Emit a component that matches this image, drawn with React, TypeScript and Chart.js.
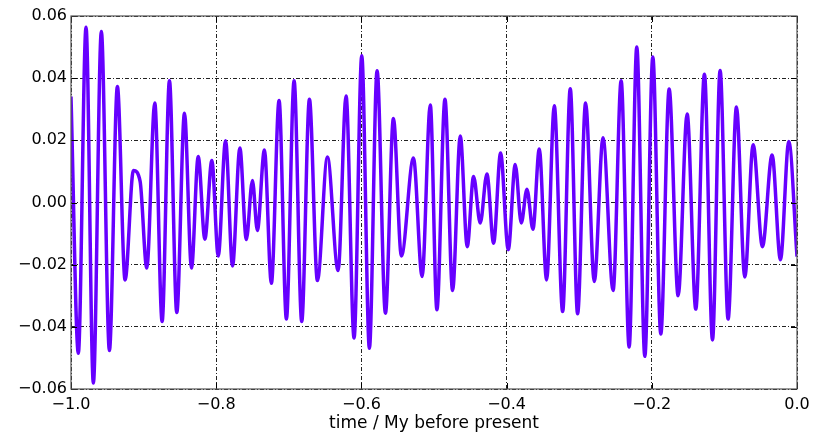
import React, { useEffect, useRef } from "react";
import { Chart, registerables } from "chart.js";

Chart.register(...registerables);

// Extrema (time in My before present, value)
const times: number[] = [
  -1.0, -0.9899, -0.9793, -0.9692, -0.9582, -0.9471, -0.9361, -0.9255, -0.914, -0.9048,
  -0.8956, -0.8846, -0.8745, -0.8644, -0.8543, -0.8437, -0.834, -0.8248, -0.8156, -0.806,
  -0.7972, -0.7871, -0.7775, -0.7674, -0.7585, -0.7501, -0.7433, -0.7336, -0.724, -0.7134,
  -0.7033, -0.6927, -0.6822, -0.6716, -0.6606, -0.6468, -0.6321, -0.6211, -0.6101, -0.5995,
  -0.589, -0.5784, -0.5669, -0.5559, -0.5449, -0.5283, -0.5164, -0.5051, -0.496, -0.4849,
  -0.4744, -0.4638, -0.4542, -0.4455, -0.4363, -0.4271, -0.4179, -0.4083, -0.3977, -0.3881,
  -0.3798, -0.372, -0.3637, -0.355, -0.3449, -0.3343, -0.3228, -0.3123, -0.3022, -0.2912,
  -0.2792, -0.2672, -0.2533, -0.2422, -0.2312, -0.2207, -0.2096, -0.1986, -0.1876, -0.1761,
  -0.1637, -0.1513, -0.1394, -0.1275, -0.1164, -0.1059, -0.0949, -0.0834, -0.0719, -0.0604,
  -0.0476, -0.0343, -0.0228, -0.0113, 0.0,
];

const values: number[] = [
  0.0341, -0.0485, 0.0564, -0.0581, 0.055, -0.0476, 0.0373, -0.0249, 0.0103, 0.0068,
  -0.0211, 0.032, -0.0383, 0.0392, -0.0354, 0.0287, -0.0211, 0.0148, -0.0118, 0.0135,
  -0.0172, 0.0199, -0.0204, 0.0175, -0.0119, 0.0071, -0.009, 0.0169, -0.026, 0.0328,
  -0.0375, 0.0392, -0.0383, 0.0332, -0.0251, 0.0146, -0.0219, 0.0343, -0.0436, 0.0472,
  -0.0469, 0.0424, -0.0356, 0.027, -0.0172, 0.0143, -0.0238, 0.0314, -0.0345, 0.0332,
  -0.0283, 0.0214, -0.0142, 0.0084, -0.0066, 0.0092, -0.0131, 0.0159, -0.0152, 0.0122,
  -0.0066, 0.0043, -0.0086, 0.0172, -0.0249, 0.0311, -0.0351, 0.0366, -0.0358, 0.032,
  -0.0254, 0.0208, -0.0283, 0.0392, -0.0465, 0.05, -0.0495, 0.0468, -0.0423, 0.0365,
  -0.03, 0.0285, -0.0343, 0.0413, -0.0442, 0.0425, -0.0375, 0.0307, -0.024, 0.0186,
  -0.0142, 0.0153, -0.0184, 0.0196, -0.0174,
];

const xTicks: number[] = [-1.0, -0.8, -0.6, -0.4, -0.2, 0.0];
const yTicks: number[] = [-0.06, -0.04, -0.02, 0.0, 0.02, 0.04, 0.06];
const xTitle = "time / My before present";

const FONT = "'DejaVu Sans', sans-serif";

const fmt = (v: number, d: number) => {
  const s = Math.abs(v).toFixed(d);
  return (v < -1e-9 ? "\u2212" : "") + s;
};

const framePlugin = {
  id: "frame",
  afterDraw(chart: any) {
    const { ctx, chartArea } = chart;
    const { left, right, top, bottom } = chartArea;
    ctx.save();
    ctx.strokeStyle = "#000";
    ctx.lineWidth = 1;
    const ys = chart.scales.y;
    const xs = chart.scales.x;
    ctx.beginPath();
    yTicks.forEach((t) => {
      const p = Math.round(ys.getPixelForValue(t)) + 0.5;
      ctx.moveTo(right - 6, p);
      ctx.lineTo(right, p);
      ctx.moveTo(left, p);
      ctx.lineTo(left + 6, p);
    });
    xTicks.forEach((t) => {
      const p = Math.round(xs.getPixelForValue(t)) + 0.5;
      ctx.moveTo(p, top);
      ctx.lineTo(p, top + 6);
      ctx.moveTo(p, bottom);
      ctx.lineTo(p, bottom - 6);
    });
    ctx.stroke();
    ctx.strokeStyle = "#555";
    ctx.lineWidth = 1.2;
    ctx.strokeRect(left, top, right - left, bottom - top);
    ctx.restore();
  },
};

export default function App() {
  const ref = useRef<HTMLCanvasElement | null>(null);
  useEffect(() => {
    if (!ref.current) return;
    const data = times.map((t, i) => ({ x: t, y: values[i] }));
    const chart = new Chart(ref.current, {
      type: "line",
      data: {
        datasets: [
          {
            data,
            borderColor: "#6600ff",
            borderWidth: 3.5,
            pointRadius: 0,
            cubicInterpolationMode: "monotone",
            fill: false,
          },
        ],
      },
      options: {
        animation: false,
        responsive: false,
        maintainAspectRatio: false,
        layout: { padding: { top: 16, right: 28, left: 0, bottom: 0 } },
        plugins: { legend: { display: false }, tooltip: { enabled: false } },
        scales: {
          x: {
            type: "linear",
            min: -1,
            max: 0,
            afterBuildTicks: (s: any) => {
              s.ticks = xTicks.map((v) => ({ value: v }));
            },
            afterFit: (s: any) => {
              s.height = 45;
            },
            ticks: {
              color: "#000",
              font: { family: FONT, size: 16 },
              padding: 6,
              maxRotation: 0,
              callback: (v: any) => fmt(Number(v), 1),
            },
            grid: { color: "#222", lineWidth: 1, drawTicks: false },
            border: { display: false, dash: [4, 2, 1, 2] },
            title: {
              display: true,
              text: xTitle,
              color: "#000",
              font: { family: FONT, size: 17 },
              padding: { top: 0, bottom: 0 },
            },
          },
          y: {
            type: "linear",
            min: -0.06,
            max: 0.06,
            afterBuildTicks: (s: any) => {
              s.ticks = yTicks.map((v) => ({ value: v }));
            },
            afterFit: (s: any) => {
              s.width = 71;
            },
            ticks: {
              color: "#000",
              font: { family: FONT, size: 16 },
              padding: 4,
              callback: (v: any) => fmt(Number(v), 2),
            },
            grid: { color: "#222", lineWidth: 1, drawTicks: false },
            border: { display: false, dash: [4, 2, 1, 2] },
          },
        },
      },
      plugins: [framePlugin],
    } as any);
    return () => chart.destroy();
  }, []);
  return (
    <div style={{ position: "fixed", left: 0, top: 0, width: 825, height: 434, background: "#fff" }}>
      <canvas ref={ref} width={825} height={434} style={{ width: 825, height: 434 }} />
    </div>
  );
}
